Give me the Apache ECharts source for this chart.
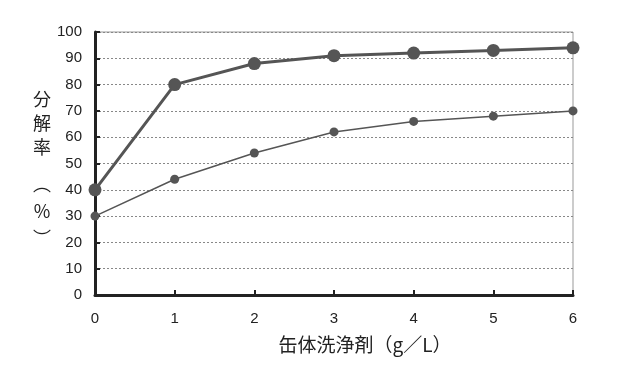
<!DOCTYPE html>
<html><head><meta charset="utf-8">
<script src="https://cdn.jsdelivr.net/npm/echarts@6/dist/echarts.min.js"></script>
<style>html,body{margin:0;padding:0;background:#fff}#c{width:620px;height:365px}</style>
</head><body><div id="c"></div>
<script>
var categories = [0, 1, 2, 3, 4, 5, 6];
var seriesHigh = [40, 80, 88, 91, 92, 93, 94];
var seriesLow = [30, 44, 54, 62, 66, 68, 70];
var yTicks = [0, 10, 20, 30, 40, 50, 60, 70, 80, 90, 100];
var xTitle = '缶体洗浄剤（g／L）';
var yTitleChars = ['分', '解', '率', '︵', '%', '︶'];

var chart = echarts.init(document.getElementById('c'), null, {renderer: 'canvas'});
var yTitleY = [99, 123, 147, 184, 211, 238];
var graphics = yTitleChars.map(function (ch, i) {
  return {type: 'text', style: {text: ch, x: 42, y: yTitleY[i], align: 'center', verticalAlign: 'middle', font: '18px "Noto Sans CJK JP"', fill: '#222'}};
});
graphics.push({type: 'text', style: {text: xTitle, x: 365, y: 345, align: 'center', verticalAlign: 'middle', font: '19px "Noto Sans CJK JP"', fill: '#222'}});
graphics.push({type: 'line', shape: {x1: 95, y1: 32, x2: 573, y2: 32}, style: {stroke: '#999', lineWidth: 1}});
graphics.push({type: 'line', shape: {x1: 573, y1: 32, x2: 573, y2: 295}, style: {stroke: '#999', lineWidth: 1}});

chart.setOption({
  animation: false,
  grid: {left: 95, right: 47, top: 32, bottom: 70},
  xAxis: {
    type: 'value', min: 0, max: 6, interval: 1,
    axisLine: {lineStyle: {color: '#222', width: 3}},
    axisTick: {inside: true, length: 5, lineStyle: {color: '#222', width: 2}},
    axisLabel: {color: '#222', fontSize: 15, fontFamily: 'Liberation Sans', margin: 16},
    splitLine: {show: false}
  },
  yAxis: {
    type: 'value', min: 0, max: 100, interval: 10,
    axisLine: {show: true, lineStyle: {color: '#222', width: 3}},
    axisTick: {show: true, inside: true, length: 5, lineStyle: {color: '#222', width: 2}},
    axisLabel: {color: '#222', fontSize: 15, fontFamily: 'Liberation Sans', margin: 13,
      formatter: function (v) { return yTicks.indexOf(v) >= 0 ? String(v) : ''; }},
    splitLine: {show: true, lineStyle: {color: '#888', type: [2, 2], width: 1}}
  },
  graphic: graphics,
  series: [
    {type: 'line', data: categories.map(function (x, i) { return [x, seriesLow[i]]; }),
      symbol: 'circle', symbolSize: 9, lineStyle: {color: '#555', width: 1.5},
      itemStyle: {color: '#555'}, z: 3},
    {type: 'line', data: categories.map(function (x, i) { return [x, seriesHigh[i]]; }),
      symbol: 'circle', symbolSize: 13, lineStyle: {color: '#555', width: 3},
      itemStyle: {color: '#555'}, z: 4}
  ]
});
</script></body></html>
